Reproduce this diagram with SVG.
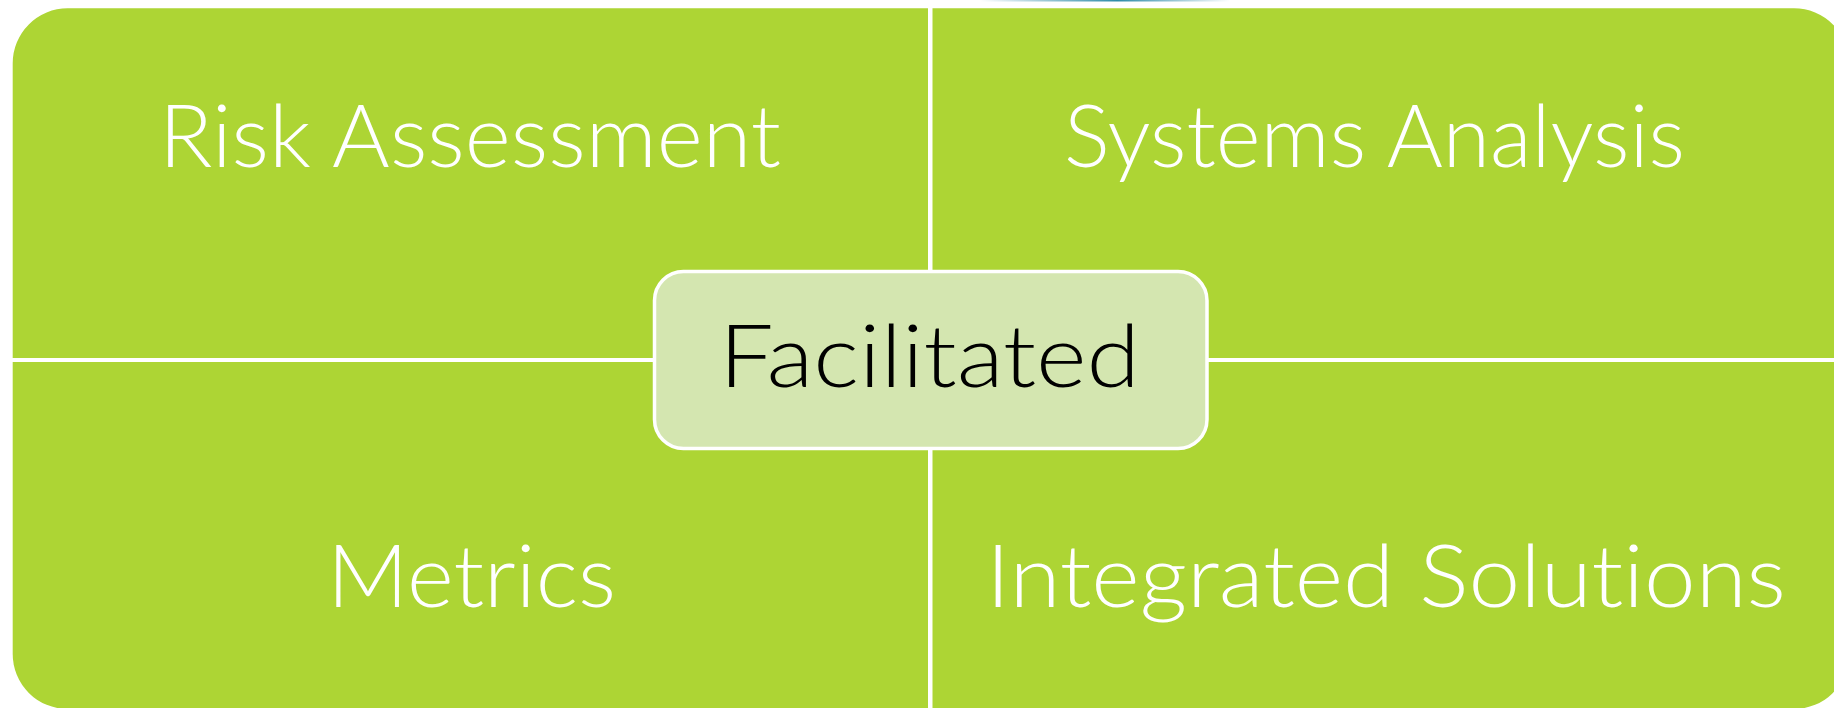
<svg xmlns="http://www.w3.org/2000/svg" width="1834" height="708" viewBox="0 0 1834 708">
  <style>
    .quad { fill: #ADD534; stroke: none; }
    .qlabel { font-family: Lato, "Open Sans", "Liberation Sans", sans-serif; font-weight: 300; font-size: 86px; fill: #FFFFFF; font-variant-ligatures: none; font-feature-settings: "liga" 0, "dlig" 0; }
    .center { fill: #D4E6B0; stroke: #FFFFFF; stroke-width: 3.5; }
    .clabel { font-family: Lato, "Open Sans", "Liberation Sans", sans-serif; font-weight: 300; font-size: 86px; fill: #000000; font-variant-ligatures: none; font-feature-settings: "liga" 0, "dlig" 0; }
  </style>
  <defs>
    <linearGradient id="topline" x1="0" y1="0" x2="1" y2="0">
      <stop offset="0" stop-color="#2E8BA8" stop-opacity="0"/>
      <stop offset="0.55" stop-color="#2E8BA8" stop-opacity="1"/>
      <stop offset="1" stop-color="#2E8BA8" stop-opacity="0"/>
    </linearGradient>
  </defs>
  <rect x="0" y="0" width="1834" height="708" fill="#FFFFFF"/>
  <rect x="980" y="0" width="250" height="1.5" fill="url(#topline)"/>

  <g id="risk-assessment">
    <path class="quad" d="M12.7,358 V63.3 A55,55 0 0 1 67.7,8.3 H928 V358 Z"/>
    <text class="qlabel" x="159" y="167" textLength="622" lengthAdjust="spacingAndGlyphs">Risk Assessment</text>
  </g>
  <g id="systems-analysis">
    <path class="quad" d="M932.5,8.3 H1794 A55,55 0 0 1 1849,63.3 V358 H932.5 Z"/>
    <text class="qlabel" x="1064" y="167" textLength="621" lengthAdjust="spacingAndGlyphs">Systems Analysis</text>
  </g>
  <g id="metrics">
    <path class="quad" d="M12.7,362 H928 V709 H67.7 A55,55 0 0 1 12.7,654 Z"/>
    <text class="qlabel" x="327" y="607" textLength="289" lengthAdjust="spacingAndGlyphs">Metrics</text>
  </g>
  <g id="integrated-solutions">
    <path class="quad" d="M932.5,362 H1849 V654 A55,55 0 0 1 1794,709 H932.5 Z"/>
    <text class="qlabel" x="986" y="607" textLength="800" lengthAdjust="spacingAndGlyphs">Integrated Solutions</text>
  </g>
  <g id="connectors"/>
  <g id="facilitated">
    <rect class="center" x="654.5" y="271.5" width="552.5" height="177" rx="29" ry="29"/>
    <text class="clabel" x="719" y="387" textLength="421" lengthAdjust="spacingAndGlyphs">Facilitated</text>
  </g>
</svg>
